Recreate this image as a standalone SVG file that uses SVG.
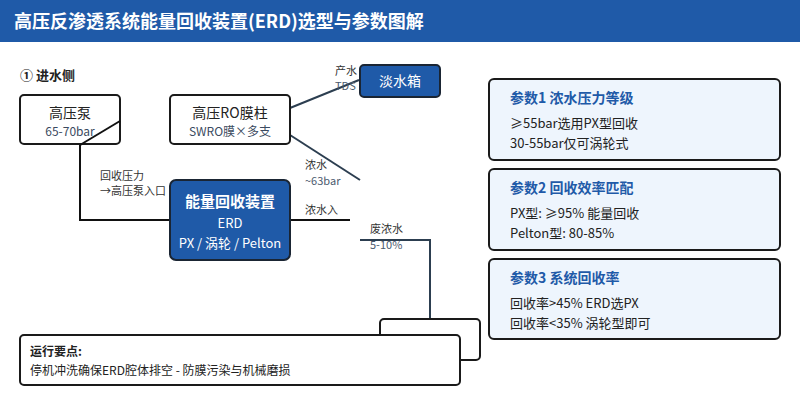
<svg xmlns="http://www.w3.org/2000/svg" width="800" height="400" viewBox="0 0 800 400">
<style>
text{font-family:"Noto Sans CJK SC","Noto Sans",sans-serif;}
.node{fill:#fff;stroke:#1a1a1a;stroke-width:2;}
.blue{fill:#1f5aa8;stroke:#1a2533;stroke-width:2;}
.panel{fill:#eef5fd;stroke:#1a1a1a;stroke-width:2;}
.t1{font-size:14px;fill:#222;text-anchor:middle;}
.t2{font-size:12px;fill:#3a4a60;text-anchor:middle;}
.lbl{font-size:11px;fill:#333;}
.lbl2{font-size:11px;fill:#4a5a6e;}
.ptitle{font-size:14px;font-weight:bold;fill:#1f5aa8;}
.ptxt{font-size:13px;fill:#222;}
.k{fill:none;stroke:#111;stroke-width:2;}
.s{fill:none;stroke:#2c3e50;stroke-width:2;}
</style>
<rect x="0" y="0" width="800" height="42" fill="#1f5aa8"/>
<text x="14" y="28" font-size="18" font-weight="bold" fill="#fff">高压反渗透系统能量回收装置(ERD)选型与参数图解</text>
<text x="20" y="80" font-size="13" font-weight="bold" fill="#222">① 进水侧</text>

<g id="connectors">
<path class="k" d="M120,121 L80,145 L80,220 L170,220"/>
<path class="s" d="M290,108 L359,80"/>
<path class="s" d="M290,135 L360,180"/>
<path class="k" d="M290,220 L350,220"/>
<path class="s" d="M360,240 L430,240 L430,320"/>
</g>

<text class="lbl" x="100" y="180">回收压力</text>
<text class="lbl" x="100" y="195">→高压泵入口</text>
<text class="lbl" x="335" y="75">产水</text>
<text class="lbl2" x="335" y="90">TDS</text>
<text class="lbl" x="305" y="169">浓水</text>
<text class="lbl2" x="305" y="185">~63bar</text>
<text class="lbl" x="305" y="214">浓水入</text>
<text class="lbl" x="370" y="233">废浓水</text>
<text class="lbl2" x="370" y="249">5-10%</text>

<g id="pump">
<rect class="node" x="20" y="95" width="100" height="49" rx="4"/>
<text class="t1" x="70" y="118">高压泵</text>
<text class="t2" x="70" y="136">65-70bar</text>
</g>
<path class="k" d="M120,121 L80,145"/>

<g id="ro">
<rect class="node" x="170" y="95" width="120" height="49" rx="4"/>
<text class="t1" x="230" y="118">高压RO膜柱</text>
<text class="t2" x="230" y="136">SWRO膜×多支</text>
</g>

<g id="tank">
<rect class="blue" x="360" y="65" width="80" height="32" rx="4"/>
<text x="400" y="86" font-size="14" fill="#fff" text-anchor="middle">淡水箱</text>
</g>

<g id="erd">
<rect class="blue" x="170" y="180" width="120" height="80" rx="6"/>
<text x="230" y="207" font-size="15" font-weight="bold" fill="#fff" text-anchor="middle">能量回收装置</text>
<text x="230" y="228" font-size="13" fill="#fff" text-anchor="middle">ERD</text>
<text x="230" y="248" font-size="13" fill="#fff" text-anchor="middle">PX / 涡轮 / Pelton</text>
</g>

<g id="drain">
<rect class="node" x="380" y="319" width="100" height="41" rx="4"/>
</g>

<g id="notes">
<rect class="node" x="20" y="335" width="440" height="50" rx="4"/>
<text x="30" y="356" font-size="12" font-weight="bold" fill="#222">运行要点:</text>
<text x="30" y="375" font-size="12" fill="#222">停机冲洗确保ERD腔体排空 - 防膜污染与机械磨损</text>
</g>

<g id="param1">
<rect class="panel" x="489" y="79" width="291" height="81" rx="5"/>
<text class="ptitle" x="510" y="103">参数1 浓水压力等级</text>
<text class="ptxt" x="510" y="128">≥55bar选用PX型回收</text>
<text class="ptxt" x="510" y="148">30-55bar仅可涡轮式</text>
</g>
<g id="param2">
<rect class="panel" x="489" y="169" width="291" height="81" rx="5"/>
<text class="ptitle" x="510" y="193">参数2 回收效率匹配</text>
<text class="ptxt" x="510" y="218">PX型: ≥95% 能量回收</text>
<text class="ptxt" x="510" y="238">Pelton型: 80-85%</text>
</g>
<g id="param3">
<rect class="panel" x="489" y="259" width="291" height="80" rx="5"/>
<text class="ptitle" x="510" y="283">参数3 系统回收率</text>
<text class="ptxt" x="510" y="308">回收率&gt;45% ERD选PX</text>
<text class="ptxt" x="510" y="328">回收率&lt;35% 涡轮型即可</text>
</g>
</svg>
